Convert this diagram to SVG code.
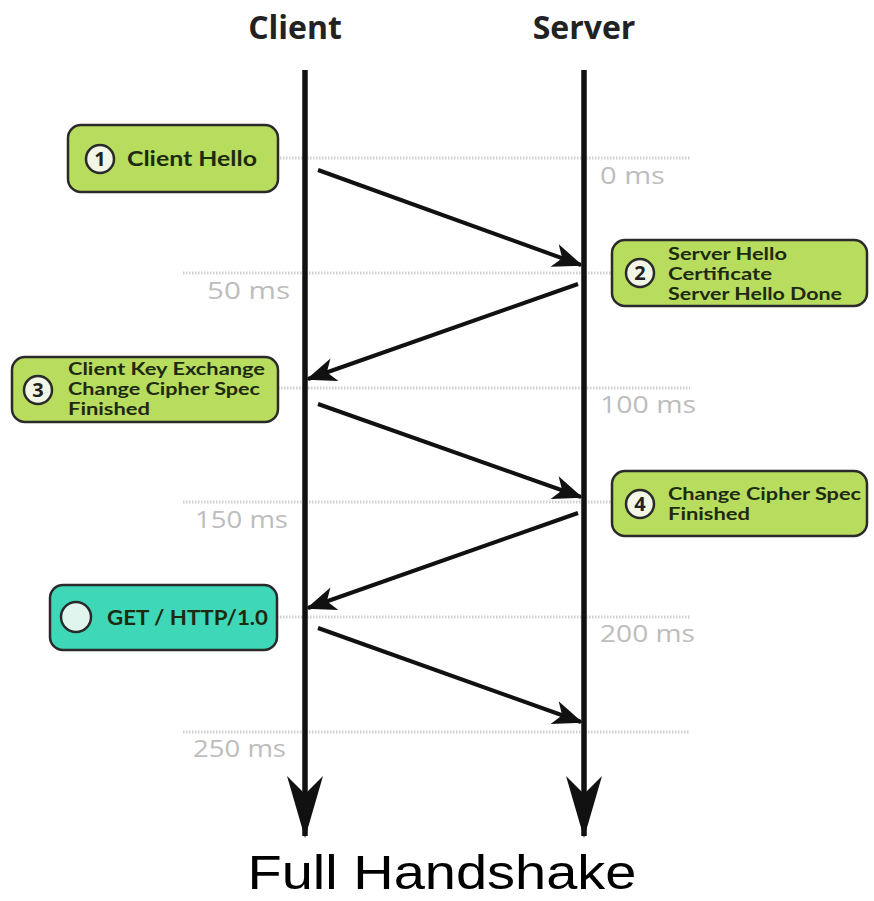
<svg xmlns="http://www.w3.org/2000/svg" width="874" height="901" viewBox="0 0 874 901">
<style>
.hdr{font-family:"Open Sans","Liberation Sans",sans-serif;font-weight:bold;font-size:32px;fill:#222}
.box{stroke:#2a2a2a;stroke-width:2.5}
.g{fill:#b7dc5e}
.t{fill:#3ed8b9}
.c{fill:#f2f6e6;stroke:#2a2a2a;stroke-width:2.5}
.lbl{font-family:Lato,"Open Sans",sans-serif;font-weight:bold;fill:#1e2a10}
.num{font-family:"Open Sans","Liberation Sans",sans-serif;font-weight:bold;font-size:20px;fill:#222;text-anchor:middle}
.ms{font-family:"Open Sans","Liberation Sans",sans-serif;font-size:24px;fill:#bdbdbd}
.dot{stroke:#cfcfcf;stroke-width:3;stroke-dasharray:1.5 1.5}
.life{stroke:#111;stroke-width:5.5}
.msg{stroke:#111;stroke-width:4;fill:none}
</style>
<defs>
<marker id="ah" markerUnits="userSpaceOnUse" markerWidth="40" markerHeight="30" refX="0" refY="0" viewBox="-32 -15 40 30" orient="auto">
<path d="M2,0 L-28,-12 L-20,0 L-28,12 Z" fill="#111"/>
</marker>
<marker id="big" markerUnits="userSpaceOnUse" markerWidth="70" markerHeight="40" refX="0" refY="0" viewBox="-64 -20 70 40" orient="auto">
<path d="M2,0 L-60,-18 L-42,0 L-60,18 Z" fill="#111"/>
</marker>
</defs>

<g id="grid">
<line class="dot" x1="280" y1="158" x2="690" y2="158"/>
<line class="dot" x1="183" y1="273" x2="612" y2="273"/>
<line class="dot" x1="278" y1="388" x2="690" y2="388"/>
<line class="dot" x1="183" y1="502" x2="612" y2="502"/>
<line class="dot" x1="277" y1="617" x2="690" y2="617"/>
<line class="dot" x1="183" y1="732" x2="690" y2="732"/>
<text class="ms" x="600" y="184" textLength="65" lengthAdjust="spacingAndGlyphs">0 ms</text>
<text class="ms" x="207" y="299" textLength="83" lengthAdjust="spacingAndGlyphs">50 ms</text>
<text class="ms" x="600" y="413" textLength="96" lengthAdjust="spacingAndGlyphs">100 ms</text>
<text class="ms" x="195" y="528" textLength="93" lengthAdjust="spacingAndGlyphs">150 ms</text>
<text class="ms" x="600" y="642" textLength="95" lengthAdjust="spacingAndGlyphs">200 ms</text>
<text class="ms" x="193" y="757" textLength="93" lengthAdjust="spacingAndGlyphs">250 ms</text>
</g>

<g id="client">
<text class="hdr" x="295" y="39" text-anchor="middle">Client</text>
</g>
<g id="server">
<text class="hdr" x="584" y="39" text-anchor="middle">Server</text>
</g>

<g id="connectors">
<line class="life" x1="305" y1="70" x2="305" y2="836" marker-end="url(#big)"/>
<line class="life" x1="584" y1="70" x2="584" y2="836" marker-end="url(#big)"/>
<line class="msg" x1="318" y1="170" x2="581" y2="265" marker-end="url(#ah)"/>
<line class="msg" x1="578" y1="284" x2="308" y2="379" marker-end="url(#ah)"/>
<line class="msg" x1="318" y1="404" x2="581" y2="497" marker-end="url(#ah)"/>
<line class="msg" x1="578" y1="513" x2="308" y2="608" marker-end="url(#ah)"/>
<line class="msg" x1="318" y1="628" x2="581" y2="722" marker-end="url(#ah)"/>
</g>

<g id="n1">
<rect class="box g" x="68" y="125" width="210" height="67" rx="13"/>
<circle class="c" cx="100" cy="159" r="14"/>
<text class="num" x="100" y="166">1</text>
<text class="lbl" x="127" y="166" font-size="21" textLength="130" lengthAdjust="spacingAndGlyphs">Client Hello</text>
</g>

<g id="n2">
<rect class="box g" x="612" y="240" width="255" height="66" rx="13"/>
<circle class="c" cx="640" cy="273" r="14"/>
<text class="num" x="640" y="280">2</text>
<text class="lbl" x="668" y="260" font-size="16.5" textLength="119" lengthAdjust="spacingAndGlyphs">Server Hello</text>
<text class="lbl" x="668" y="280" font-size="16.5" textLength="104" lengthAdjust="spacingAndGlyphs">Certificate</text>
<text class="lbl" x="668" y="300" font-size="16.5" textLength="174" lengthAdjust="spacingAndGlyphs">Server Hello Done</text>
</g>

<g id="n3">
<rect class="box g" x="12" y="357" width="266" height="65" rx="13"/>
<circle class="c" cx="38" cy="390" r="14"/>
<text class="num" x="38" y="397">3</text>
<text class="lbl" x="68" y="375" font-size="16.5" textLength="197" lengthAdjust="spacingAndGlyphs">Client Key Exchange</text>
<text class="lbl" x="68" y="395" font-size="16.5" textLength="192" lengthAdjust="spacingAndGlyphs">Change Cipher Spec</text>
<text class="lbl" x="68" y="415" font-size="16.5" textLength="82" lengthAdjust="spacingAndGlyphs">Finished</text>
</g>

<g id="n4">
<rect class="box g" x="612" y="471" width="255" height="65" rx="13"/>
<circle class="c" cx="640" cy="504" r="14"/>
<text class="num" x="640" y="511">4</text>
<text class="lbl" x="668" y="500" font-size="16.5" textLength="193" lengthAdjust="spacingAndGlyphs">Change Cipher Spec</text>
<text class="lbl" x="668" y="520" font-size="16.5" textLength="82" lengthAdjust="spacingAndGlyphs">Finished</text>
</g>

<g id="n5">
<rect class="box t" x="50" y="585" width="227" height="65" rx="13"/>
<circle class="c" cx="76" cy="617" r="15" style="fill:#dff5ee"/>
<text class="lbl" x="107" y="625" font-size="21" textLength="161" lengthAdjust="spacingAndGlyphs">GET / HTTP/1.0</text>
</g>

<text x="442" y="889" text-anchor="middle" font-family="Liberation Sans, Arial, sans-serif" font-size="48" fill="#000" textLength="389" lengthAdjust="spacingAndGlyphs">Full Handshake</text>
</svg>
